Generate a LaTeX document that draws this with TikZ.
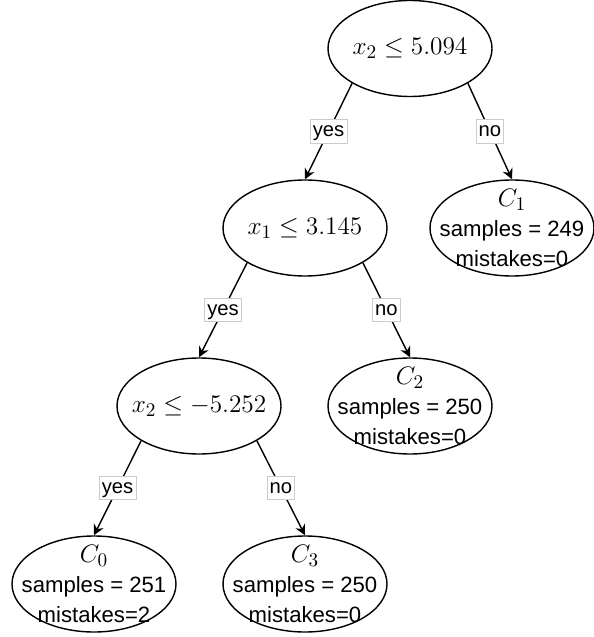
\documentclass[tikz,border=0pt]{standalone}
\usepackage[no-math]{fontspec}
\setmainfont{Liberation Sans}
\usetikzlibrary{shapes.geometric,arrows.meta}

\begin{document}
\begin{tikzpicture}[x=1cm, y=1cm,
    nodo/.style={draw=black, ellipse, line width=.8pt, minimum width=3.28cm,
      minimum height=1.92cm, inner sep=0pt},
    condizione/.style={font=\fontsize{15.8}{18}\selectfont, inner sep=0pt},
    foglia/.style={font=\fontsize{12.6}{17}\selectfont, align=center, inner sep=0pt},
    ramo/.style={line width=.8pt, -{Stealth[length=6pt, width=6pt, inset=2pt]}},
    etichetta/.style={fill=white, draw=gray!40, line width=.4pt, inner xsep=1.5pt,
      inner ysep=1.2pt, text height=8.3pt, text depth=2.6pt,
      font=\fontsize{11.5}{13}\selectfont}]

  \useasboundingbox (0,0) rectangle (11.86,-12.74);

  % nodi interni
  \node[nodo, label={[condizione]center:$x_2 \leq 5.094$}] (radice) at (8.2,-0.97) {};
  \node[nodo, label={[condizione]center:$x_1 \leq 3.145$}] (split1) at (6.1,-4.56) {};
  \node[nodo, label={[condizione]center:$x_2 \leq -5.252$}] (split2) at (3.98,-8.12) {};

  % foglie
  \node[nodo, label={[foglia]center:{{\fontsize{15.8}{17}\selectfont$C_1$}\\samples = 249\\mistakes=0}}]
    (c1) at (10.24,-4.56) {};
  \node[nodo, label={[foglia]center:{{\fontsize{15.8}{17}\selectfont$C_2$}\\samples = 250\\mistakes=0}}]
    (c2) at (8.2,-8.12) {};
  \node[nodo, label={[foglia]center:{{\fontsize{15.8}{17}\selectfont$C_0$}\\samples = 251\\mistakes=2}}]
    (c0) at (1.88,-11.68) {};
  \node[nodo, label={[foglia]center:{{\fontsize{15.8}{17}\selectfont$C_3$}\\samples = 250\\mistakes=0}}]
    (c3) at (6.1,-11.68) {};

  % rami
  \foreach \da/\a/\b in {radice/split1/c1, split1/split2/c2, split2/c0/c3} {
    \draw[ramo] (\da.211) -- node[etichetta] {yes} (\a.north);
    \draw[ramo] (\da.329) -- node[etichetta] {no} (\b.north);
  }
\end{tikzpicture}
\end{document}
